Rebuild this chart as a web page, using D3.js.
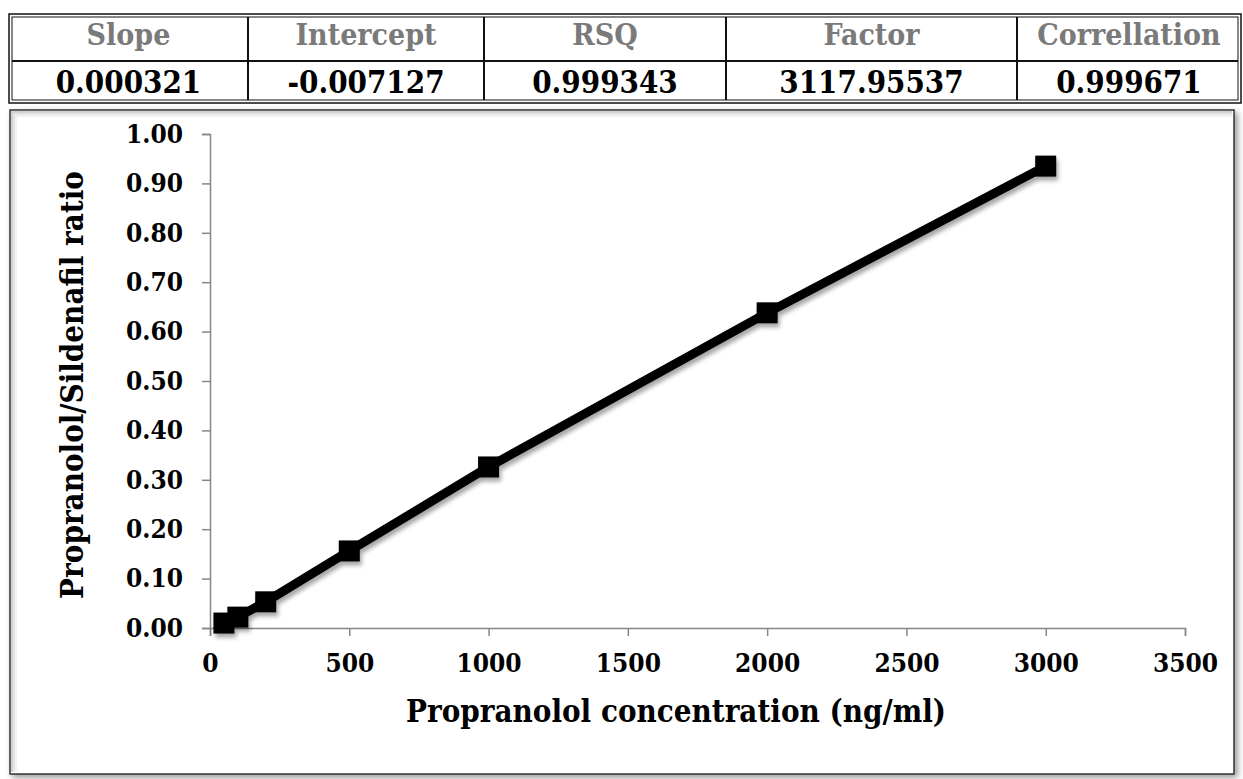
<!DOCTYPE html>
<html>
<head>
<meta charset="utf-8">
<script src="https://cdn.jsdelivr.net/npm/d3@7"></script>
<style>
  body { margin: 0; background: #fff; overflow: hidden; }
  text { font-family: "DejaVu Serif Condensed", "DejaVu Serif", serif; font-weight: bold; }
</style>
</head>
<body>
<script>
// table values
const statNames = ['Slope', 'Intercept', 'RSQ', 'Factor', 'Correllation'];
const statValues = ['0.000321', '-0.007127', '0.999343', '3117.95537', '0.999671'];

// calibration points
const concentrations = [50, 100, 200, 500, 1000, 2000, 3000];
const ratios = [0.010, 0.022, 0.053, 0.156, 0.326, 0.638, 0.935];

const xTicks = [0, 500, 1000, 1500, 2000, 2500, 3000, 3500];
const yTicks = [0, 0.1, 0.2, 0.3, 0.4, 0.5, 0.6, 0.7, 0.8, 0.9, 1.0];

const w = 1243;
const h = 779;

const svg = d3.select('body')
    .append('svg')
    .attr('width', w)
    .attr('height', h);

const defs = svg.append('defs');
const shadow = defs.append('filter')
    .attr('id', 'shadow')
    .attr('x', '-20%').attr('y', '-20%')
    .attr('width', '150%').attr('height', '150%');
shadow.append('feDropShadow')
    .attr('dx', 2).attr('dy', 4)
    .attr('stdDeviation', 2)
    .attr('flood-color', '#000')
    .attr('flood-opacity', 0.35);

const boxShadow = defs.append('filter')
    .attr('id', 'boxshadow')
    .attr('x', '-5%').attr('y', '-5%')
    .attr('width', '110%').attr('height', '110%');
boxShadow.append('feDropShadow')
    .attr('dx', 3).attr('dy', 3)
    .attr('stdDeviation', 3)
    .attr('flood-color', '#000')
    .attr('flood-opacity', 0.4);

// ---- table at the top ----
const tbl = { left: 9, right: 1241, top: 14, mid: 61, bottom: 103 };
const colEdges = [tbl.left, 248, 484, 726, 1017, tbl.right];

const tg = svg.append('g');

// double outer border
tg.append('rect')
    .attr('x', tbl.left).attr('y', tbl.top)
    .attr('width', tbl.right - tbl.left).attr('height', tbl.bottom - tbl.top)
    .attr('fill', 'none').attr('stroke', '#111').attr('stroke-width', 1.5);
tg.append('rect')
    .attr('x', tbl.left + 3).attr('y', tbl.top + 3)
    .attr('width', tbl.right - tbl.left - 6).attr('height', tbl.bottom - tbl.top - 6)
    .attr('fill', 'none').attr('stroke', '#111').attr('stroke-width', 1);

tg.append('line')
    .attr('x1', tbl.left + 3).attr('x2', tbl.right - 3)
    .attr('y1', tbl.mid).attr('y2', tbl.mid)
    .attr('stroke', '#111').attr('stroke-width', 2);

tg.selectAll('line.sep')
    .data(colEdges.slice(1, -1))
    .enter()
    .append('line')
    .attr('class', 'sep')
    .attr('x1', d => d).attr('x2', d => d)
    .attr('y1', tbl.top + 3).attr('y2', tbl.bottom - 3)
    .attr('stroke', '#111').attr('stroke-width', 2);

tg.selectAll('text.head')
    .data(statNames)
    .enter()
    .append('text')
    .attr('class', 'head')
    .attr('x', (d, i) => (colEdges[i] + colEdges[i + 1]) / 2)
    .attr('y', 45)
    .attr('text-anchor', 'middle')
    .attr('font-size', 30)
    .attr('fill', '#7a7a7a')
    .text(d => d);

tg.selectAll('text.val')
    .data(statValues)
    .enter()
    .append('text')
    .attr('class', 'val')
    .attr('x', (d, i) => (colEdges[i] + colEdges[i + 1]) / 2)
    .attr('y', 93)
    .attr('text-anchor', 'middle')
    .attr('font-size', 31)
    .attr('fill', '#000')
    .text(d => d);

// ---- chart box ----
const box = { x: 10, y: 110, w: 1224, h: 664 };
svg.append('rect')
    .attr('x', box.x).attr('y', box.y)
    .attr('width', box.w).attr('height', box.h)
    .attr('fill', '#fff')
    .attr('stroke', '#333').attr('stroke-width', 1.5)
    .attr('filter', 'url(#boxshadow)');

// soft inner shade along the top and left edges
[0.18, 0.1, 0.05].forEach((op, i) => {
    svg.append('path')
        .attr('d', `M${box.x + 2 + i * 2},${box.y + box.h - 2} V${box.y + 2 + i * 2} H${box.x + box.w - 2}`)
        .attr('fill', 'none')
        .attr('stroke', '#000')
        .attr('stroke-opacity', op)
        .attr('stroke-width', 2);
});

// ---- plot ----
const margin = { top: 134, left: 210 };
const innerWidth = 1185 - 210;
const innerHeight = 628 - 134;

const xScale = d3.scaleLinear()
    .domain([0, 3500])
    .range([0, innerWidth]);

const yScale = d3.scaleLinear()
    .domain([0, 1])
    .range([innerHeight, 0]);

const g = svg.append('g')
    .attr('transform', `translate(${margin.left},${margin.top})`);

const xAxis = d3.axisBottom(xScale)
    .tickValues(xTicks)
    .tickFormat(d3.format('d'))
    .tickSize(8)
    .tickPadding(18);

const yAxis = d3.axisLeft(yScale)
    .tickValues(yTicks)
    .tickFormat(d3.format('.2f'))
    .tickSize(8)
    .tickPadding(19);

const xAxisG = g.append('g')
    .attr('transform', `translate(0,${innerHeight})`)
    .call(xAxis);

const yAxisG = g.append('g')
    .call(yAxis);

[xAxisG, yAxisG].forEach(a => {
    a.selectAll('path, line')
        .attr('stroke', '#868686')
        .attr('stroke-width', 1.5);
    a.selectAll('text')
        .attr('font-size', 26)
        .attr('fill', '#000')
        .style('font-family', '"DejaVu Serif Condensed", "DejaVu Serif", serif')
        .style('font-weight', 'bold');
});

const line = d3.line()
    .x((d, i) => xScale(concentrations[i]))
    .y(d => yScale(d));

const series = g.append('g').attr('filter', 'url(#shadow)');

series.append('path')
    .datum(ratios)
    .attr('d', line)
    .attr('fill', 'none')
    .attr('stroke', '#000')
    .attr('stroke-width', 9)
    .attr('stroke-linejoin', 'round');

const ms = 21;
series.selectAll('rect')
    .data(ratios)
    .enter()
    .append('rect')
    .attr('x', (d, i) => xScale(concentrations[i]) - ms / 2)
    .attr('y', d => yScale(d) - ms / 2)
    .attr('width', ms)
    .attr('height', ms)
    .attr('fill', '#000');

// axis titles
g.append('text')
    .attr('x', 676 - margin.left)
    .attr('y', 722 - margin.top)
    .attr('text-anchor', 'middle')
    .attr('font-size', 31)
    .text('Propranolol concentration (ng/ml)');

g.append('text')
    .attr('transform', `translate(${83 - margin.left},${385 - margin.top}) rotate(-90)`)
    .attr('text-anchor', 'middle')
    .attr('font-size', 31)
    .text('Propranolol/Sildenafil ratio');
</script>
</body>
</html>
